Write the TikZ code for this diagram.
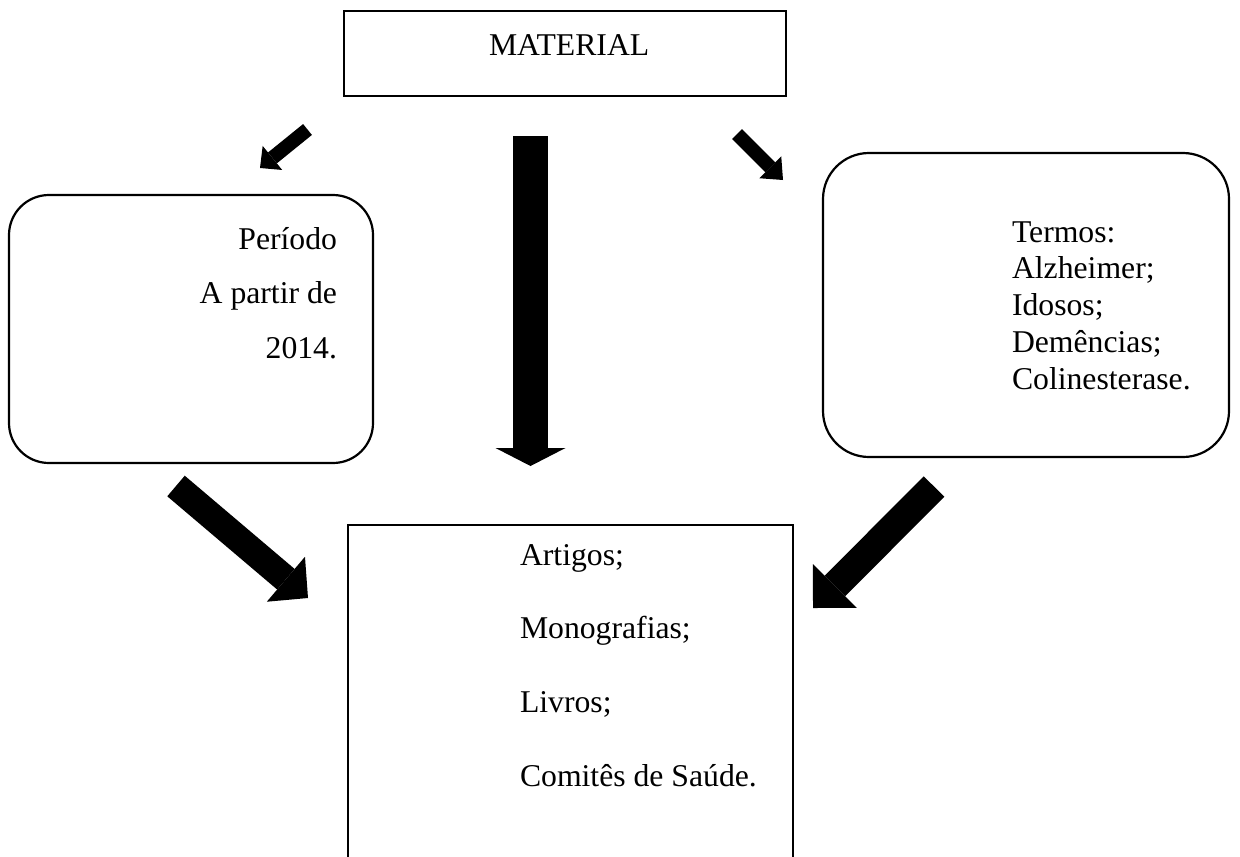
\documentclass[tikz,border=0pt]{standalone}
\usepackage{fontspec}
\setmainfont{Liberation Serif}
\usetikzlibrary{arrows.meta}
\tikzset{
  boxline/.style={draw=black, line width=1.1pt, inner sep=0pt, outer sep=0pt, fill=none},
  sqbox/.style={boxline, rectangle},
  rbox/.style={boxline, rectangle},
  txt/.style={inner sep=0pt, outer sep=0pt, font=\fontsize{15.85pt}{19pt}\selectfont},
  bigarrow/.style n args={3}{line width=#1, draw=black,
    -{Triangle[width=#2 0, length=#3 0, line width=0pt 0 0]}},
}
\begin{document}
\begin{tikzpicture}[x=0.5pt,y=-0.5pt]
\useasboundingbox (0,0) rectangle (1240,856);
\clip (0,0) rectangle (1240,856);
\fill[white] (0,0) rectangle (1240,856);

% boxes
\node[sqbox, minimum width=221pt, minimum height=42.5pt] (mat) at (565,53.5) {};
\node[rbox, rounded corners=20pt, minimum width=182pt, minimum height=134pt] (per) at (191,329) {};
\node[rbox, rounded corners=23pt, minimum width=203pt, minimum height=152pt] (ter) at (1026,305) {};
\node[sqbox, minimum width=222.5pt, minimum height=187.5pt] (res) at (570.5,712.5) {};

% texts
\node[txt, anchor=base west] (tmat) at (489,56) {MATERIAL};

\node[txt, anchor=base east] (tp1) at (337,249) {Período};
\node[txt, anchor=base east] (tp2) at (337,303.5) {A partir de};
\node[txt, anchor=base east] (tp3) at (337,358) {2014.};

\node[txt, anchor=base west] (tt1) at (1012,242) {Termos:};
\node[txt, anchor=base west] (tt2) at (1012,278.75) {Alzheimer;};
\node[txt, anchor=base west] (tt3) at (1012,315.5) {Idosos;};
\node[txt, anchor=base west] (tt4) at (1012,352.25) {Demências;};
\node[txt, anchor=base west] (tt5) at (1012,389) {Colinesterase.};

\node[txt, anchor=base west] (tr1) at (520,565) {Artigos;};
\node[txt, anchor=base west] (tr2) at (520,638.7) {Monografias;};
\node[txt, anchor=base west] (tr3) at (520,712.3) {Livros;};
\node[txt, anchor=base west] (tr4) at (520,786) {Comitês de Saúde.};

% arrow end points
\coordinate (a1s) at (307.5,129.5);
\coordinate (a1e) at (260,168);
\coordinate (a2s) at (737,134);
\coordinate (a2e) at (783,180);
\coordinate (a3s) at (530.5,136);
\coordinate (a3e) at (530.5,466);
\coordinate (a4s) at (176,486);
\coordinate (a4e) at (308,598);
\coordinate (a5s) at (934,486.5);
\coordinate (a5e) at (813,608);

\draw[bigarrow={7pt}{15.5pt}{8pt}] (a1s) -- (a1e);
\draw[bigarrow={7pt}{15.5pt}{9pt}] (a2s) -- (a2e);
\draw[bigarrow={17.5pt}{35pt}{9pt}] (a3s) -- (a3e);
\draw[bigarrow={13.5pt}{29.5pt}{14.5pt}] (a4s) -- (a4e);
\draw[bigarrow={14.5pt}{31pt}{15.5pt}] (a5s) -- (a5e);
\end{tikzpicture}
\end{document}
